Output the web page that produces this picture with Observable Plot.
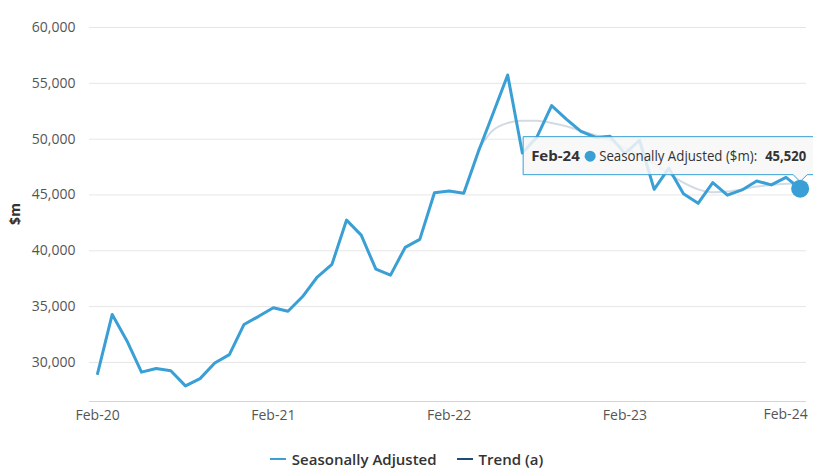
<!DOCTYPE html>
<html>
<head>
<meta charset="utf-8">
<script src="https://cdn.jsdelivr.net/npm/d3@7"></script>
<script src="https://cdn.jsdelivr.net/npm/@observablehq/plot@0.6"></script>
<style>
  html, body { margin: 0; padding: 0; background: #fff; }
  body { width: 813px; height: 473px; overflow: hidden; font-family: "Open Sans", sans-serif; }
  #legend { display: flex; justify-content: center; align-items: center; height: 30px; margin-top: 4px;
            font-size: 15px; font-weight: 600; color: #333; }
  .item { display: flex; align-items: center; margin: 0 10px; }
  .sym { width: 16px; height: 2px; margin-right: 6px; }
</style>
</head>
<body>
<div id="chart"></div>
<div id="legend"></div>
<script>
const months = ["Feb-20","Mar-20","Apr-20","May-20","Jun-20","Jul-20","Aug-20","Sep-20","Oct-20","Nov-20","Dec-20","Jan-21",
  "Feb-21","Mar-21","Apr-21","May-21","Jun-21","Jul-21","Aug-21","Sep-21","Oct-21","Nov-21","Dec-21","Jan-22",
  "Feb-22","Mar-22","Apr-22","May-22","Jun-22","Jul-22","Aug-22","Sep-22","Oct-22","Nov-22","Dec-22","Jan-23",
  "Feb-23","Mar-23","Apr-23","May-23","Jun-23","Jul-23","Aug-23","Sep-23","Oct-23","Nov-23","Dec-23","Jan-24",
  "Feb-24"];
const seasonallyAdjusted = [29000,34300,31950,29130,29450,29250,27900,28550,29950,30700,33400,34130,
  34900,34580,35900,37650,38780,42750,41400,38350,37820,40300,41020,45200,
  45350,45150,48900,52300,55750,48750,50200,53000,51800,50700,50150,50250,
  48700,49900,45500,47400,45100,44250,46100,44980,45450,46250,45900,46580,
  45520];
// Trend (a) series, available from Apr-22
const trendMonths = months.slice(26);
const trend = [49100,50800,51450,51650,51650,51450,51150,50750,50350,49900,
  49200,48500,47800,46900,46100,45500,45250,45300,45500,45750,45900,46000,46050];
const yTicks = [30000,35000,40000,45000,50000,55000,60000];
const xTickLabels = ["Feb-20","Feb-21","Feb-22","Feb-23","Feb-24"];

const SA_COLOR = "#399fd4";
const TREND_COLOR = "#1f4b7a";

const saData = months.map((m, i) => ({i, m, v: seasonallyAdjusted[i]}));
const trendData = trendMonths.map((m, j) => ({i: months.indexOf(m), m, v: trend[j]}));
const xTickIdx = xTickLabels.map(l => months.indexOf(l));
const last = saData[saData.length - 1];

const chart = Plot.plot({
  width: 813,
  height: 440,
  marginLeft: 89,
  marginRight: 7,
  marginTop: 27,
  marginBottom: 39,
  style: {fontFamily: "Open Sans", fontSize: "14px", color: "#555", background: "#fff", overflow: "visible"},
  x: {type: "linear", domain: [-0.55, 48.4]},
  y: {domain: [26500, 60000]},
  marks: [
    Plot.ruleY(yTicks, {stroke: "#e6e6e6", strokeWidth: 1}),
    Plot.ruleY([26500], {stroke: "#ccd6eb", strokeWidth: 1}),
    Plot.axisY({ticks: yTicks, tickSize: 0, tickPadding: 14, tickFormat: d3.format(","), label: null, fontSize: 14}),
    Plot.axisX({ticks: xTickIdx.slice(0, -1), tickSize: 0, tickPadding: 9, tickFormat: i => months[i], label: null, fontSize: 14}),
    Plot.text([xTickIdx[xTickIdx.length - 1]], {x: d => d, frameAnchor: "bottom", dy: 17, text: i => months[i],
      textAnchor: "end", dx: 7, fill: "#555", fontSize: 14}),
    Plot.line(trendData, {x: "i", y: "v", stroke: TREND_COLOR, strokeOpacity: 0.2, strokeWidth: 2, curve: "monotone-x"}),
    Plot.line(saData, {x: "i", y: "v", stroke: SA_COLOR, strokeWidth: 3, strokeLinejoin: "round"}),
  ]
});
document.getElementById("chart").appendChild(chart);

const svg = d3.select(chart);
// y axis title
svg.append("text").attr("transform", "translate(20,214) rotate(-90)")
  .attr("text-anchor", "middle").attr("font-size", 14).attr("font-weight", 700).attr("fill", "#333")
  .text("$m");

// hover tooltip anchored to the last point
const xs = chart.scale("x"), ys = chart.scale("y");
const px = xs.apply(last.i), py = ys.apply(last.v);
const L = px - 277, T = py - 52, B = py - 14, R = px + 30;
const g = svg.append("g").attr("text-anchor", "start");
g.append("path")
  .attr("d", `M${L},${T}H${R}V${B}H${px + 7}L${px},${B + 7}L${px - 7},${B}H${L}Z`)
  .attr("fill", "rgba(247,247,247,0.85)").attr("stroke", SA_COLOR).attr("stroke-width", 1);
g.append("text").attr("x", L + 8).attr("y", T + 24).attr("text-anchor", "start")
  .attr("font-size", 15).attr("font-weight", 700).attr("fill", "#333")
  .text(last.m);
g.append("circle").attr("cx", L + 67).attr("cy", T + 19.5).attr("r", 5.5).attr("fill", SA_COLOR);
g.append("text").attr("x", L + 76).attr("y", T + 24).attr("text-anchor", "start")
  .attr("font-size", 14).attr("fill", "#333")
  .attr("textLength", 158).attr("lengthAdjust", "spacingAndGlyphs")
  .text("Seasonally Adjusted ($m):");
g.append("text").attr("x", px + 6).attr("y", T + 24).attr("text-anchor", "end")
  .attr("font-size", 14).attr("font-weight", 700).attr("fill", "#333")
  .attr("textLength", 41).attr("lengthAdjust", "spacingAndGlyphs")
  .text(d3.format(",")(last.v));
// hover marker
svg.append("circle").attr("cx", px).attr("cy", py).attr("r", 9).attr("fill", SA_COLOR);

// legend
const legend = document.getElementById("legend");
[["Seasonally Adjusted", SA_COLOR], ["Trend (a)", TREND_COLOR]].forEach(([name, c]) => {
  const it = document.createElement("div"); it.className = "item";
  it.innerHTML = `<span class="sym" style="background:${c}"></span><span>${name}</span>`;
  legend.appendChild(it);
});
</script>
</body>
</html>
